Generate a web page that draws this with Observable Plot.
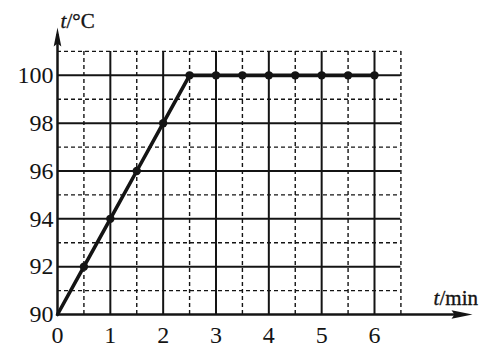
<!DOCTYPE html>
<html>
<head>
<meta charset="utf-8">
<script src="https://cdn.jsdelivr.net/npm/d3@7"></script>
<script src="https://cdn.jsdelivr.net/npm/@observablehq/plot@0.6"></script>
<style>
  html, body { margin: 0; padding: 0; background: #fff; }
  #chart svg { display: block; }
</style>
</head>
<body>
<div id="chart"></div>
<script>
// Data
const times = [0, 0.5, 1, 1.5, 2, 2.5, 3, 3.5, 4, 4.5, 5, 5.5, 6];
const temps = [90, 92, 94, 96, 98, 100, 100, 100, 100, 100, 100, 100, 100];
const xTicks = [0, 1, 2, 3, 4, 5, 6];
const yTicks = [90, 92, 94, 96, 98, 100];
const xMinor = [0.5, 1.5, 2.5, 3.5, 4.5, 5.5, 6.5];
const yMinor = [91, 93, 95, 97, 99, 101];
const gridXMax = 6.5;
const gridYMax = 101;
const xAxisEnd = 7.855;
const yAxisEnd = 102;
const xTitle = ["t", "/min"];
const yTitle = ["t", "/°C"];

const points = times.map((t, i) => ({t, temp: temps[i]}));

const upArrow = {
  draw(ctx) {
    ctx.moveTo(0, 0);
    ctx.lineTo(-3.8, 19);
    ctx.lineTo(0, 16);
    ctx.lineTo(3.8, 19);
    ctx.closePath();
  }
};
const rightArrow = {
  draw(ctx) {
    ctx.moveTo(0, 0);
    ctx.lineTo(-21, -4.2);
    ctx.lineTo(-18, 0);
    ctx.lineTo(-21, 4.2);
    ctx.closePath();
  }
};

const ink = "#141414";
const font = "'Liberation Serif', 'Times New Roman', serif";
const textStyle = {fontFamily: font, fill: ink, stroke: ink, strokeWidth: 0.35};

const chart = Plot.plot({
  width: 481,
  height: 347,
  marginLeft: 57,
  marginRight: 9,
  marginTop: 27,
  marginBottom: 33,
  style: {background: "#fff", fontFamily: font, color: ink},
  x: {domain: [0, xAxisEnd]},
  y: {domain: [90, yAxisEnd]},
  marks: [
    // minor dashed grid
    Plot.ruleX(xMinor, {x: d => d, y1: 90, y2: gridYMax, stroke: ink, strokeWidth: 1.4, strokeDasharray: "4,3"}),
    Plot.ruleY(yMinor, {y: d => d, x1: 0, x2: gridXMax, stroke: ink, strokeWidth: 1.4, strokeDasharray: "4,3"}),
    // major solid grid
    Plot.ruleX(xTicks.slice(1), {x: d => d, y1: 90, y2: gridYMax, stroke: ink, strokeWidth: 2}),
    Plot.ruleY(yTicks.slice(1), {y: d => d, x1: 0, x2: gridXMax, stroke: ink, strokeWidth: 2}),
    // axes
    Plot.ruleX([0], {x: d => d, y1: 90, y2: yAxisEnd - 0.3, stroke: ink, strokeWidth: 2.5}),
    Plot.ruleY([90], {y: d => d, x1: 0, x2: xAxisEnd - 0.3, stroke: ink, strokeWidth: 2.5}),
    Plot.dot([{x: 0, y: yAxisEnd}], {x: "x", y: "y", symbol: upArrow, r: 5, fill: ink, stroke: "none"}),
    Plot.dot([{x: xAxisEnd, y: 90}], {x: "x", y: "y", symbol: rightArrow, r: 5, fill: ink, stroke: "none"}),
    // tick labels
    Plot.axisX(xTicks, {tickSize: 0, tickPadding: 11, fontSize: 24, ...textStyle, label: null}),
    Plot.axisY(yTicks, {tickSize: 0, tickPadding: 4, fontSize: 24, ...textStyle, label: null}),
    // data
    Plot.line(points, {x: "t", y: "temp", stroke: ink, strokeWidth: 3.6}),
    Plot.dot(points.slice(1), {x: "t", y: "temp", r: 4.2, fill: ink, stroke: "none"}),
    // axis titles
    Plot.text([{x: 0, y: yAxisEnd}], {x: "x", y: "y", text: () => yTitle[0], dx: 3, dy: 0, textAnchor: "start", lineAnchor: "bottom", fontStyle: "italic", fontSize: 21, ...textStyle}),
    Plot.text([{x: 0, y: yAxisEnd}], {x: "x", y: "y", text: () => yTitle[1], dx: 9, dy: 0, textAnchor: "start", lineAnchor: "bottom", fontSize: 21, ...textStyle}),
    Plot.text([{x: xAxisEnd, y: 90}], {x: "x", y: "y", text: () => xTitle[0], dx: -39, dy: -10, textAnchor: "start", lineAnchor: "bottom", fontStyle: "italic", fontSize: 21, ...textStyle}),
    Plot.text([{x: xAxisEnd, y: 90}], {x: "x", y: "y", text: () => xTitle[1], dx: -33, dy: -10, textAnchor: "start", lineAnchor: "bottom", fontSize: 21, ...textStyle})
  ]
});
document.getElementById("chart").appendChild(chart);
</script>
</body>
</html>
